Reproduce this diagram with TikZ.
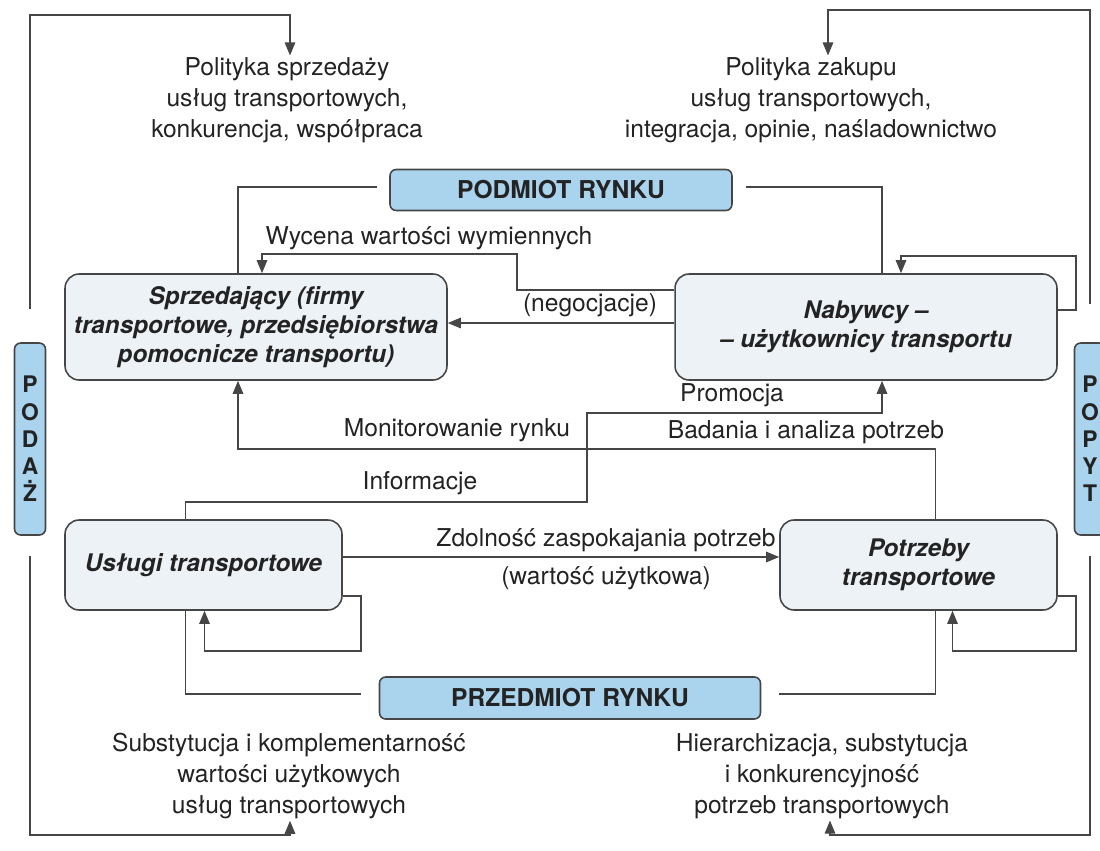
\documentclass[tikz,border=0pt]{standalone}
\usepackage{fontspec}
\setmainfont{TeX Gyre Heros}
\usetikzlibrary{calc,arrows.meta}

\definecolor{linegray}{RGB}{70,70,70}
\definecolor{inkgray}{RGB}{35,35,35}
\definecolor{tagblue}{RGB}{170,212,237}
\definecolor{boxwhite}{RGB}{237,242,246}

\tikzset{
	mainbox/.style={draw=linegray, line width=0.9pt, fill=boxwhite, rounded corners=8pt, align=center, text=inkgray, font=\fontsize{13.8}{16.5}\selectfont\bfseries\itshape, inner sep=0pt},
	tagbox/.style={draw=linegray, line width=0.9pt, fill=tagblue, rounded corners=3.5pt, align=center, text=inkgray, font=\fontsize{14}{16}\selectfont\bfseries, inner sep=0pt},
	sidebox/.style={tagbox, minimum width=0.62cm, minimum height=3.84cm, font=\fontsize{13}{15.5}\selectfont\bfseries},
	note/.style={align=center, text=inkgray, font=\fontsize{14}{17.5}\selectfont, inner sep=1pt},
	link/.style={draw=linegray, line width=0.85pt},
	tip/.style={-{Triangle[length=7.5pt,width=6pt]}}
}

\begin{document}
\begin{tikzpicture}[x=0.02cm, y=-0.02cm]
		%%%%% START %%%%%
		\useasboundingbox (0,0) rectangle (1100,850);
		
		\node[mainbox, minimum width=7.64cm, minimum height=2.12cm] (sprz) at (256,327) {Sprzedający (firmy\\transportowe, przedsiębiorstwa\\pomocnicze transportu)};
		\node[mainbox, minimum width=7.64cm, minimum height=2.12cm] (nab) at (866,327) {Nabywcy –\\– użytkownicy transportu};
		\node[mainbox, minimum width=5.54cm, minimum height=1.8cm] (usl) at (203.5,565) {Usługi transportowe};
		\node[mainbox, minimum width=5.54cm, minimum height=1.8cm] (potrz) at (918.5,565) {Potrzeby\\transportowe};
		
		\node[tagbox, minimum width=6.84cm, minimum height=0.82cm] (podmiot) at (561,190) {PODMIOT RYNKU};
		\node[tagbox, minimum width=7.62cm, minimum height=0.84cm] (przedmiot) at (570,698) {PRZEDMIOT RYNKU};
		\node[sidebox] (podaz) at (30,439) {P\\O\\D\\A\\Ż};
		\node[sidebox] (popyt) at (1090,439) {P\\O\\P\\Y\\T};
		
		\node[note] (polsprz) at (287,100) {Polityka sprzedaży\\usług transportowych,\\konkurencja, współpraca};
		\node[note] (polzak) at (811,100) {Polityka zakupu\\usług transportowych,\\integracja, opinie, naśladownictwo};
		\node[note] (subst) at (289,776) {Substytucja i komplementarność\\wartości użytkowych\\usług transportowych};
		\node[note] (hier) at (822,776) {Hierarchizacja, substytucja\\i konkurencyjność\\potrzeb transportowych};
		
		\node[note] (wycena) at (429,238) {Wycena wartości wymiennych};
		\node[note] (negoc) at (590,305) {(negocjacje)};
		\node[note] (promo) at (732,395) {Promocja};
		\node[note] (monit) at (457,430) {Monitorowanie rynku};
		\node[note] (badania) at (806,432) {Badania i analiza potrzeb};
		\node[note] (inform) at (420,483) {Informacje};
		\node[note] (zdoln) at (606,540) {Zdolność zaspokajania potrzeb};
		\node[note] (wartu) at (606,578) {(wartość użytkowa)};
		
		% outer loops
		\coordinate (tl) at (30,15);
		\coordinate (tr) at (1090,10);
		\coordinate (bl) at (30,835);
		\coordinate (br) at (1090,835);
		\draw[link,tip] ($(podaz.north)+(0,-33)$) -- (tl) -| ($(polsprz.north)+(3,0)$);
		\draw[link,tip] ($(popyt.north)+(0,-38)$) -- (tr) -| ($(polzak.north)+(17,0)$);
		\draw[link,tip] ($(podaz.south)+(0,20)$) -- (bl) -| ($(subst.south)+(1,0)$);
		\draw[link,tip] ($(popyt.south)+(0,20)$) -- (br) -| ($(hier.south)+(8,0)$);
		
		% podmiot rynku
		\draw[link] ($(podmiot.west)+(-12,-3)$) -| ($(sprz.north)+(-18,0)$);
		\draw[link] ($(podmiot.east)+(13,-3)$) -| ($(nab.north)+(16,0)$);
		\draw[link,tip] ($(nab.west)+(0,-37)$) -| (517,254) -| ($(sprz.north)+(6,0)$);
		\draw[link,tip] ($(nab.west)+(0,-4)$) -- ($(sprz.east)+(0,-4)$);
		\draw[link,tip] ($(nab.east)+(0,-17)$) -- ++(18,0) |- ($(nab.north)+(35,-17)$) -- ($(nab.north)+(35,0)$);
		
		% middle
		\coordinate (mon) at (238,449);
		\coordinate (inf) at (587,502);
		\coordinate (pro) at (882,413);
		\draw[link,tip] ($(potrz.north)+(17,0)$) |- (mon) -- (mon |- sprz.south);
		\draw[link,tip] ($(usl.north)+(-18,0)$) |- (inf) |- (pro) -- (pro |- nab.south);
		\draw[link,tip] ($(usl.east)+(0,-8)$) -- ($(potrz.west)+(0,-8)$);
		
		% przedmiot rynku
		\draw[link,tip] ($(usl.east)+(0,31)$) -- ++(18,0) |- ($(usl.south)+(1,40)$) -- ($(usl.south)+(1,0)$);
		\draw[link,tip] ($(potrz.east)+(0,31)$) -- ++(18,0) |- ($(potrz.south)+(34,40)$) -- ($(potrz.south)+(34,0)$);
		\draw[link] ($(przedmiot.west)+(-18,-4)$) -| ($(usl.south)+(-18,0)$);
		\draw[link] ($(przedmiot.east)+(18,-4)$) -| ($(potrz.south)+(17,0)$);
		
		%%%%% END %%%%%
\end{tikzpicture}
\end{document}
